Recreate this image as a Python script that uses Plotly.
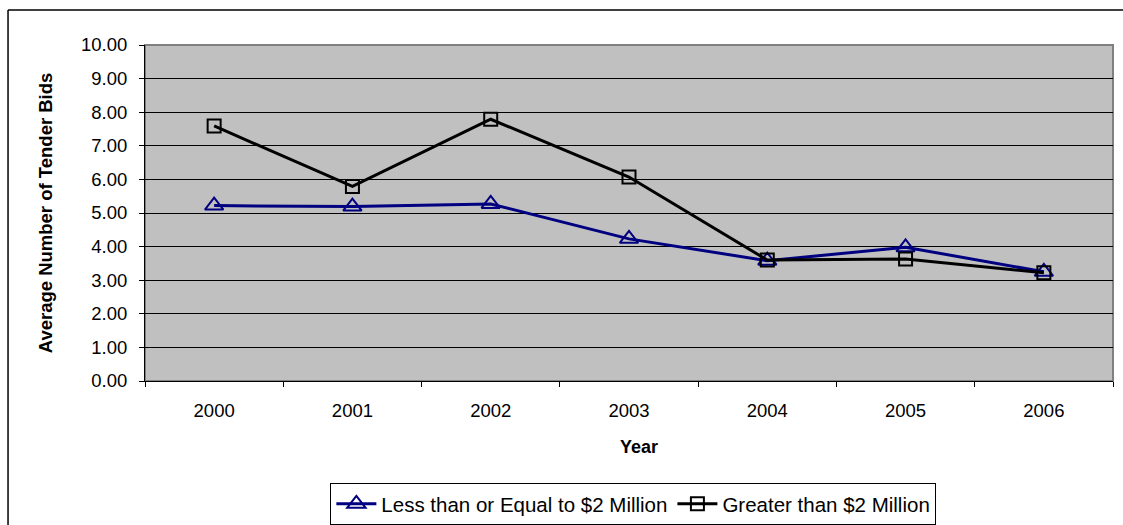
import plotly.graph_objects as go

years = ["2000", "2001", "2002", "2003", "2004", "2005", "2006"]
less_equal_2m = [5.22, 5.19, 5.27, 4.23, 3.58, 3.98, 3.25]
greater_2m = [7.59, 5.79, 7.79, 6.07, 3.60, 3.63, 3.22]

FONT = "Liberation Sans, Arial, sans-serif"

fig = go.Figure()
fig.add_trace(go.Scatter(
    x=years, y=less_equal_2m, mode="lines+markers",
    name="Less than or Equal to $2 Million",
    line=dict(color="#000080", width=3),
    marker=dict(symbol="triangle-up-open", size=16, color="#000080",
                line=dict(color="#000080", width=2)),
))
fig.add_trace(go.Scatter(
    x=years, y=greater_2m, mode="lines+markers",
    name="Greater than $2 Million",
    line=dict(color="#000000", width=3),
    marker=dict(symbol="square-open", size=13, color="#000000",
                line=dict(color="#000000", width=2)),
))

fig.update_layout(
    width=1123, height=525,
    margin=dict(l=145, r=10, t=45, b=144, autoexpand=False),
    paper_bgcolor="white",
    plot_bgcolor="#C0C0C0",
    font=dict(family=FONT, size=18, color="black"),
    showlegend=True,
    legend=dict(
        orientation="h", xref="container", yref="container",
        x=0.564, xanchor="center", y=0.04, yanchor="middle",
        bgcolor="white", bordercolor="black", borderwidth=1,
        font=dict(family=FONT, size=20.5, color="black"),
        itemwidth=40, tracegroupgap=0,
    ),
    xaxis=dict(
        type="category", range=[-0.5, 6.5], automargin=False,
        showgrid=False, tickson="boundaries", ticks="outside", ticklen=5,
        tickcolor="black", showline=True, linecolor="black", linewidth=1,
        ticklabelstandoff=13,
        tickfont=dict(family=FONT, size=18.5),
    ),
    yaxis=dict(
        range=[0, 10], dtick=1, tickformat=".2f", automargin=False,
        showgrid=True, gridcolor="black", gridwidth=1,
        ticks="outside", ticklen=5, tickcolor="black",
        showline=True, linecolor="black", linewidth=1,
        zeroline=False, ticklabelstandoff=8,
        tickfont=dict(family=FONT, size=18.5),
    ),
    shapes=[
        dict(type="rect", xref="paper", yref="paper", x0=0, x1=1, y0=0, y1=1,
             line=dict(color="#808080", width=2), layer="below"),
        dict(type="line", xref="paper", yref="paper",
             x0=-0.1415, x1=1.2, y0=1.104, y1=1.104,
             line=dict(color="black", width=1.5)),
        dict(type="line", xref="paper", yref="paper",
             x0=-0.1415, x1=-0.1415, y0=1.104, y1=-0.5,
             line=dict(color="black", width=1.5)),
    ],
    annotations=[
        dict(text="<b>Year</b>", xref="paper", yref="paper",
             x=0.51, y=-0.196, xanchor="center", yanchor="middle",
             showarrow=False, font=dict(family=FONT, size=18)),
        dict(text="<b>Average Number of Tender Bids</b>", xref="paper", yref="paper",
             x=-0.103, y=0.5, xanchor="center", yanchor="middle", textangle=-90,
             showarrow=False, font=dict(family=FONT, size=18.5)),
    ],
)

fig.write_html("out.html")
